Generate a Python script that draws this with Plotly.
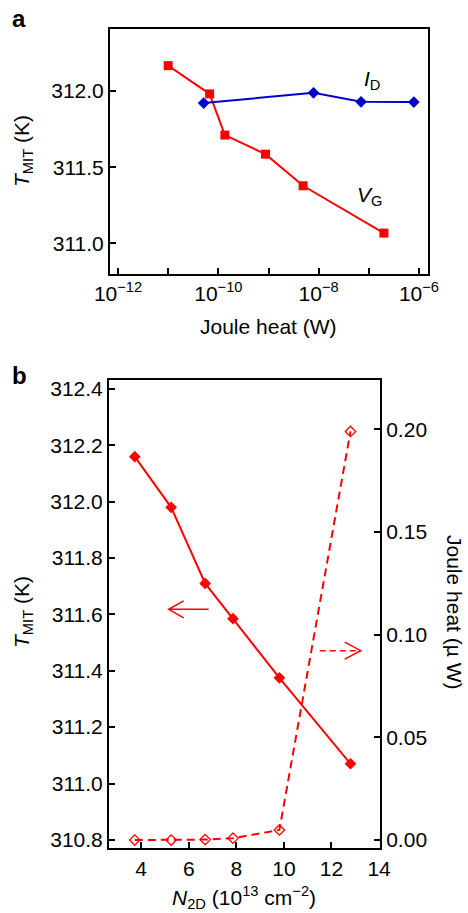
import plotly.graph_objects as go
from plotly.subplots import make_subplots

# panel a: T_MIT against Joule heat, two ways of driving the transition
vg_heat_w = [1.0e-11, 6.7e-11, 1.35e-10, 8.7e-10, 4.9e-9, 2.0e-7]
vg_tmit = [312.165, 311.98, 311.71, 311.585, 311.378, 311.068]
id_heat_w = [5.1e-11, 7.9e-9, 7.0e-8, 7.9e-7]
id_tmit = [311.92, 311.987, 311.928, 311.926]

# panel b: same gate points against carrier density
n2d = [3.73, 5.26, 6.69, 7.86, 9.81, 12.80]
n2d_tmit = [312.16, 311.98, 311.71, 311.585, 311.375, 311.07]
n2d_heat_uw = [0.0, 0.0, 0.0002, 0.0009, 0.0049, 0.199]

heat_tickvals = [1e-12, 1e-11, 1e-10, 1e-9, 1e-8, 1e-7, 1e-6]
heat_ticktext = ["10<sup>\u221212</sup>", "", "10<sup>\u221210</sup>", "",
                 "10<sup>\u22128</sup>", "", "10<sup>\u22126</sup>"]

RED = "#ff0000"
BLUE = "#0000cc"
FONT = "Liberation Sans, Arial, sans-serif"
W, H = 468, 913

fig = make_subplots(rows=2, cols=1, specs=[[{}], [{"secondary_y": True}]])

fig.add_trace(go.Scatter(x=vg_heat_w, y=vg_tmit, mode="lines+markers",
                         line=dict(color=RED, width=2),
                         marker=dict(symbol="square", size=9, color=RED)),
              row=1, col=1)
fig.add_trace(go.Scatter(x=id_heat_w, y=id_tmit, mode="lines+markers",
                         line=dict(color=BLUE, width=2),
                         marker=dict(symbol="diamond", size=9, color=BLUE)),
              row=1, col=1)

fig.add_trace(go.Scatter(x=n2d, y=n2d_tmit, mode="lines+markers",
                         line=dict(color=RED, width=2),
                         marker=dict(symbol="diamond", size=9, color=RED)),
              row=2, col=1, secondary_y=False)
fig.add_trace(go.Scatter(x=n2d, y=n2d_heat_uw, mode="lines+markers",
                         line=dict(color=RED, width=2, dash="8px,5px"),
                         marker=dict(symbol="diamond-open", size=8, color=RED,
                                     line=dict(width=1.3))),
              row=2, col=1, secondary_y=True)

axis_style = dict(showgrid=False, zeroline=False, showline=True, linecolor="black",
                  linewidth=2, ticks="inside", ticklen=6, tickwidth=2, tickcolor="black",
                  automargin=False,
                  tickfont=dict(family=FONT, size=21, color="black"))

fig.update_layout(
    xaxis=dict(axis_style, type="log", domain=[110 / W, 428 / W], range=[-12.16, -5.82],
               tickvals=heat_tickvals, ticktext=heat_ticktext, mirror=True),
    yaxis=dict(axis_style, domain=[1 - 274 / H, 1 - 29 / H], range=[310.80, 312.405],
               tick0=311.0, dtick=0.5, tickformat=".1f", mirror=True),
    xaxis2=dict(axis_style, domain=[109 / W, 380 / W], range=[2.647, 14.04],
                tick0=0, dtick=2, mirror=True),
    yaxis2=dict(axis_style, domain=[1 - 848.3 / H, 1 - 380.3 / H], range=[310.77, 312.431],
                tick0=310.8, dtick=0.2, tickformat=".1f"),
    yaxis3=dict(axis_style, range=[-0.00404, 0.2239], tick0=0, dtick=0.05,
                tickformat=".2f", side="right"),
)

ann = dict(showarrow=False, xanchor="center", yanchor="middle",
           font=dict(family=FONT, size=21, color="black"))
fig.update_layout(annotations=[
    dict(ann, text="<b>a</b>", xref="paper", yref="paper", x=19 / W, y=1 - 19 / H,
         font=dict(family=FONT, size=24, color="black")),
    dict(ann, text="<b>b</b>", xref="paper", yref="paper", x=19 / W, y=1 - 375 / H,
         font=dict(family=FONT, size=24, color="black")),
    dict(ann, text="<i>T</i><sub>MIT</sub> (K)", xref="paper", yref="paper",
         x=23 / W, y=1 - 151 / H, textangle=-90),
    dict(ann, text="Joule heat (W)", xref="paper", yref="paper", x=268 / W, y=1 - 327 / H),
    dict(ann, text="<i>I</i><sub>D</sub>", xref="x", yref="y", x=-6.93, y=312.072),
    dict(ann, text="<i>V</i><sub>G</sub>", xref="x", yref="y", x=-6.99, y=311.314),
    dict(ann, text="<i>T</i><sub>MIT</sub> (K)", xref="paper", yref="paper",
         x=23 / W, y=1 - 612 / H, textangle=-90),
    dict(ann, text="Joule heat (\u00b5 W)", xref="paper", yref="paper",
         x=455 / W, y=1 - 612 / H, textangle=90),
    dict(ann, text="<i>N</i><sub>2D</sub> (10<sup>13</sup> cm<sup>\u22122</sup>)",
         xref="paper", yref="paper", x=244 / W, y=1 - 897 / H),
])

# the two arrows pointing at each axis, drawn in pixels around their tips
fig.update_layout(shapes=[
    dict(type="path", xref="x2", yref="y2", xsizemode="pixel", ysizemode="pixel",
         xanchor=5.154, yanchor=311.618,
         path="M 40,0 L 0,0 M 15,8.5 L 0,0 L 15,-8.5",
         line=dict(color=RED, width=1.5)),
    dict(type="path", xref="x2", yref="y3", xsizemode="pixel", ysizemode="pixel",
         xanchor=13.23, yanchor=0.0922, path="M -41,0 L 0,0",
         line=dict(color=RED, width=1.5, dash="6px,4px")),
    dict(type="path", xref="x2", yref="y3", xsizemode="pixel", ysizemode="pixel",
         xanchor=13.23, yanchor=0.0922, path="M -16,8.5 L 0,0 L -16,-8.5",
         line=dict(color=RED, width=1.5)),
])

fig.update_layout(width=W, height=H, margin=dict(l=0, r=0, t=0, b=0),
                  showlegend=False, plot_bgcolor="white", paper_bgcolor="white",
                  font=dict(family=FONT, color="black"))

# page body has a default 8px margin; drop it so the figure sits at the corner
fig.write_html("out.html", config={"displayModeBar": False},
               post_script="document.body.style.margin = '0';")
